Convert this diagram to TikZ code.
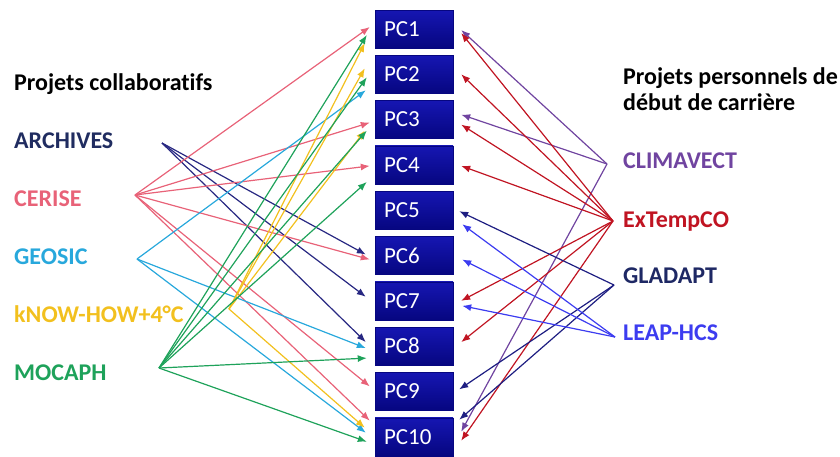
\documentclass[tikz,border=0pt]{standalone}
\usepackage{fontspec}
\setmainfont{Carlito}[Ligatures=NoCommon]
\usepackage{tikz}
\usetikzlibrary{arrows.meta}
\usetikzlibrary{calc}

\definecolor{archivescol}{RGB}{32,44,96}
\definecolor{archivesline}{RGB}{40,40,130}
\definecolor{cerisecol}{RGB}{232,98,120}
\definecolor{geosiccol}{RGB}{40,168,220}
\definecolor{knowcol}{RGB}{242,192,30}
\definecolor{mocaphcol}{RGB}{30,162,90}
\definecolor{climacol}{RGB}{112,68,160}
\definecolor{extempcol}{RGB}{192,20,34}
\definecolor{gladaptcol}{RGB}{30,40,100}
\definecolor{gladaptline}{RGB}{30,30,130}
\definecolor{leapcol}{RGB}{60,60,240}
\definecolor{pctop}{RGB}{22,22,178}
\definecolor{pcbottom}{RGB}{6,6,128}

\begin{document}
\begin{tikzpicture}[x=1pt,y=-1pt,
    pcbox/.style={top color=pctop, bottom color=pcbottom, draw=pcbottom,
        minimum height=38pt, text width=60pt, inner xsep=9pt, align=left,
        text=white, font=\fontsize{23}{26}\selectfont},
    proj/.style={anchor=base west, inner sep=0pt,
        font=\fontsize{24}{28}\selectfont\bfseries},
    link/.style={line width=1.2pt, -{Latex[length=9pt,width=7pt]}}]

        \useasboundingbox (0,0) rectangle (840,456);

        % PC boxes
        \foreach \i in {1,...,10}
            \node[pcbox] (pc\i) at (414, {29+45.3*(\i-1)}) {PC\i};

        % left: collaborative projects
        \node[proj] (collab) at (14,90) {Projets collaboratifs};
        \node[proj, text=archivescol] (archives) at (14,148) {ARCHIVES};
        \node[proj, text=cerisecol] (cerise) at (14,206) {CERISE};
        \node[proj, text=geosiccol] (geosic) at (14,264) {GEOSIC};
        \node[proj, text=knowcol] (knowhow) at (14,322) {kNOW-HOW+4°C};
        \node[proj, text=mocaphcol] (mocaph) at (14,380) {MOCAPH};

        % right: personal projects
        \node[proj] (perso) at (623,84) {Projets personnels de};
        \node[proj] (perso2) at (623,110) {début de carrière};
        \node[proj, text=climacol] (climavect) at (623,168) {CLIMAVECT};
        \node[proj, text=extempcol] (extempco) at (623,227) {ExTempCO};
        \node[proj, text=gladaptcol] (gladapt) at (623,283) {GLADAPT};
        \node[proj, text=leapcol] (leaphcs) at (623,340) {LEAP-HCS};

        % where the links start
        \coordinate (archives-o) at (162,143);
        \coordinate (cerise-o) at (135,195);
        \coordinate (geosic-o) at (137,259);
        \coordinate (knowhow-o) at (229,309);
        \coordinate (mocaph-o) at (159,368);
        \coordinate (climavect-o) at (607,164);
        \coordinate (extempco-o) at (613,221);
        \coordinate (gladapt-o) at (614,285);
        \coordinate (leaphcs-o) at (615,337);

        % links from the left
        \foreach \t/\dy in {6/-1,7/-4,8/-4}
            \draw[link, archivesline] (archives-o) -- ($(pc\t.west)+(-9,\dy)$);
        \foreach \t/\dy in {1/-2,3/3,4/1,6/4,9/-5,10/-16}
            \draw[link, cerisecol] (cerise-o) -- ($(pc\t.west)+(-5,\dy)$);
        \foreach \t/\dy in {2/16,8/2,10/-4}
            \draw[link, geosiccol] (geosic-o) -- ($(pc\t.west)+(-9,\dy)$);
        \foreach \t/\dy in {1/14,2/-6,3/11,10/-9}
            \draw[link, knowcol] (knowhow-o) -- ($(pc\t.west)+(-10,\dy)$);
        \foreach \t/\dy in {1/6,2/3,3/11,4/17,8/12,10/5}
            \draw[link, mocaphcol] (mocaph-o) -- ($(pc\t.west)+(-8,\dy)$);

        % links from the right
        \foreach \t/\dy in {1/1,3/-5,10/-5}
            \draw[link, climacol] (climavect-o) -- ($(pc\t.east)+(8,\dy)$);
        \foreach \t/\dy in {1/4,2/0,3/5,4/1,7/0,8/-4,10/4}
            \draw[link, extempcol] (extempco-o) -- ($(pc\t.east)+(8,\dy)$);
        \foreach \t/\dy in {5/1,9/-2,10/-17}
            \draw[link, gladaptline] (gladapt-o) -- ($(pc\t.east)+(6,\dy)$);
        \foreach \t/\dy in {5/14,6/4,7/5}
            \draw[link, leapcol] (leaphcs-o) -- ($(pc\t.east)+(9,\dy)$);
    \end{tikzpicture}
\end{document}
